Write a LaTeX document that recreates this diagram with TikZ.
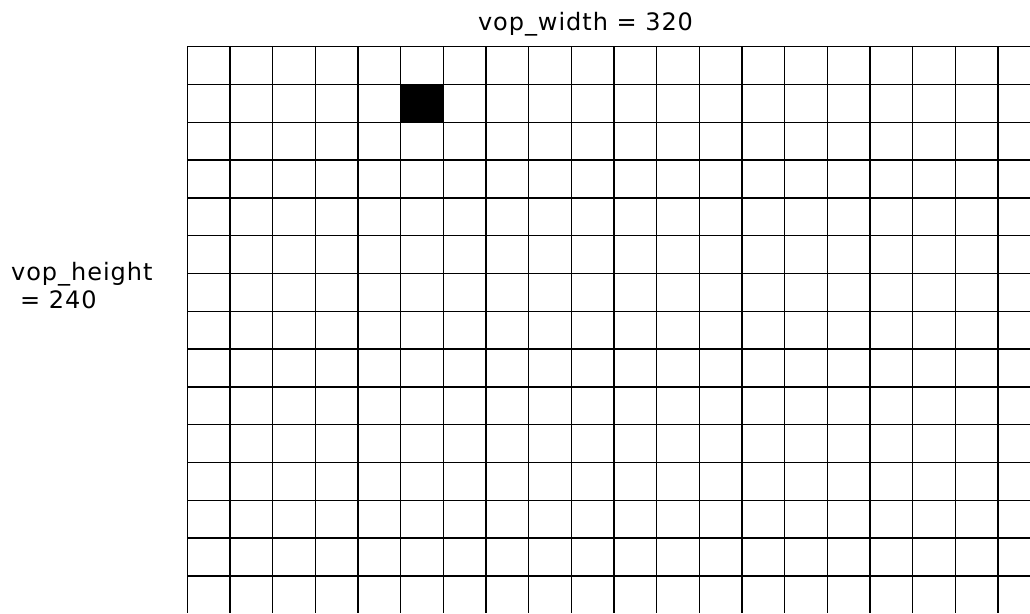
\documentclass[tikz,border=0pt]{standalone}
\usepackage{fontspec}
\setmainfont{DejaVu Sans}
\usetikzlibrary{positioning}
\tikzset{
  gridline/.style={line width=1.5pt, black},
  dimlabel/.style={font=\fontsize{24}{28}\selectfont\addfontfeature{LetterSpace=4}, inner sep=0pt}
}

\begin{document}
\begin{tikzpicture}[x=1pt, y=-1pt]
\useasboundingbox (0,0) rectangle (1030,613);

% ==========================================
% Pixel grid of the VOP (cell units)
% ==========================================
\begin{scope}[shift={(187.3,46.7)}, x=42.67pt, y=-37.8pt]
  \foreach \c in {0,...,19}
    \draw[gridline] (\c,0) -- (\c,14.98);
  \foreach \r in {0,...,14}
    \draw[gridline] (0,\r) -- (19.75,\r);
  % one highlighted pixel
  \fill[black] (5,1) rectangle (6,2);
\end{scope}

% Dimension labels
\node[dimlabel, anchor=base] (vopwidth) at (585.5,30) {vop\_width = 320};
\node[dimlabel, anchor=base west] (vopheight) at (11,280) {vop\_height};
\node[dimlabel, anchor=base west] (vopheightval) at (20,308) {= 240};

\end{tikzpicture}
\end{document}
